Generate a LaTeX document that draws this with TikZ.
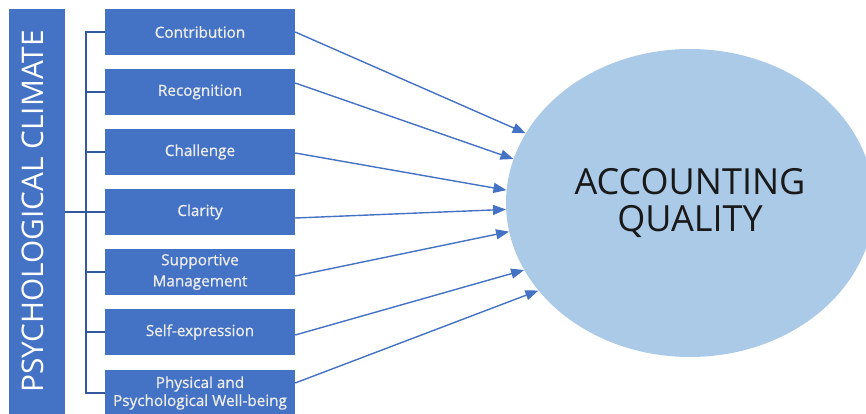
\documentclass[tikz,border=0pt]{standalone}
\usepackage{fontspec}
\setmainfont{Open Sans}
\newfontfamily\boxfont[FakeBold=0.8]{Open Sans}
\usetikzlibrary{shapes.geometric,arrows.meta}
\definecolor{boxblue}{HTML}{4472C4}
\definecolor{lineblue}{HTML}{34589F}
\definecolor{ellfill}{HTML}{ABCAE8}
\definecolor{boxtext}{HTML}{EDEDED}
\tikzset{
  factor/.style={rectangle, fill=boxblue, text=boxtext, minimum width=190pt, minimum height=46pt,
    inner sep=0pt, align=center, font=\boxfont\fontsize{15.3}{21}\selectfont},
  barbox/.style={rectangle, fill=boxblue, minimum width=56pt, minimum height=405pt, inner sep=0pt},
  bartext/.style={rotate=90, text=white, inner sep=0pt, font=\fontsize{29.8}{32}\selectfont},
  target/.style={ellipse, fill=ellfill, minimum width=368pt, minimum height=308pt, inner sep=0pt,
    align=center, text=black!90, font=\fontsize{36}{37}\selectfont},
  bracket/.style={draw=lineblue, line width=1.2pt},
  link/.style={draw=boxblue, line width=1.4pt, -{Triangle[length=13pt,width=10pt]}}
}
\begin{document}
\begin{tikzpicture}[x=1pt,y=-1pt]
\useasboundingbox (0,0) rectangle (866,414);
\clip (0,0) rectangle (866,414);
% left bar
\node[barbox] (pc) at (37,211.5) {};
\node[bartext] (pct) at (32.5,211.5) {PSYCHOLOGICAL CLIMATE};
% factor boxes
\node[factor] (c1) at (200,32) {Contribution};
\node[factor] (c2) at (200,92) {Recognition};
\node[factor] (c3) at (200,152) {Challenge};
\node[factor] (c4) at (200,212) {Clarity};
\node[factor] (c5) at (200,272) {Supportive\\Management};
\node[factor, font=\boxfont\fontsize{15.3}{18}\selectfont] (c7) at (200,393) {Physical and\\Psychological Well-being};
\node[factor] (c6) at (200,332) {Self-expression};
% target ellipse
\node[target] (aq) at (690,203) {ACCOUNTING\\QUALITY};
% bracket
\coordinate (spine) at (86,0);
\draw[bracket] (c1.west) -- (c1.west -| spine) -- (c7.west -| spine) -- (c7.west);
\foreach \n in {c2,c3,c4,c5,c6} {
  \draw[bracket] (\n.west) -- (\n.west -| spine);
}
\draw[bracket] (pc.east |- c4.west) -- (c4.west);
% arrows
\draw[link] (c1.east) -- (aq.157.7);
\draw[link] ([yshift=9pt]c2.east) -- (aq.166.8);
\draw[link] ([yshift=-1pt]c3.east) -- (aq.176.8);
\draw[link] ([yshift=-6pt]c4.east) -- (aq.182.4);
\draw[link] ([yshift=-4pt]c5.east) -- (aq.189.5);
\draw[link] ([yshift=-3pt]c6.east) -- (aq.202.1);
\draw[link] ([yshift=10pt]c7.east) -- (aq.210.5);
\end{tikzpicture}
\end{document}
